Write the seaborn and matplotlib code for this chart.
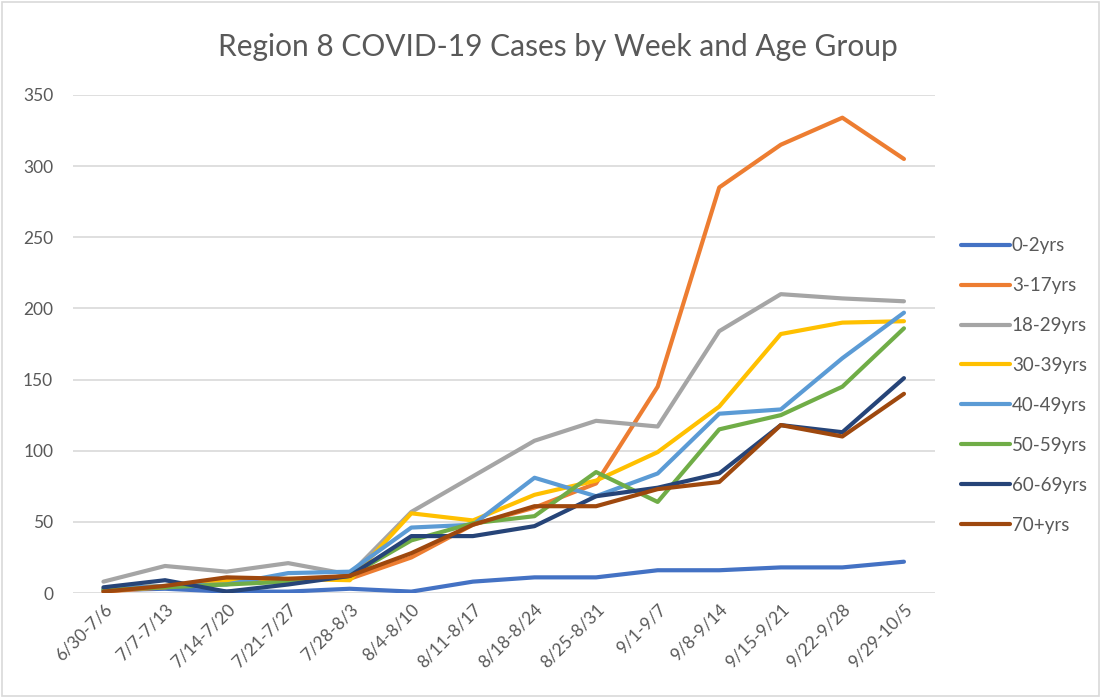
import matplotlib
matplotlib.use("Agg")
import matplotlib.pyplot as plt
import seaborn as sns
import pandas as pd
from matplotlib.patches import Rectangle

weeks = ["6/30-7/6", "7/7-7/13", "7/14-7/20", "7/21-7/27", "7/28-8/3", "8/4-8/10",
         "8/11-8/17", "8/18-8/24", "8/25-8/31", "9/1-9/7", "9/8-9/14", "9/15-9/21",
         "9/22-9/28", "9/29-10/5"]

age_groups = ["0-2yrs", "3-17yrs", "18-29yrs", "30-39yrs", "40-49yrs",
              "50-59yrs", "60-69yrs", "70+yrs"]

cases_0_2 = [2, 3, 1, 1, 3, 1, 8, 11, 11, 16, 16, 18, 18, 22]
cases_3_17 = [1, 4, 10, 9, 10, 25, 48, 60, 77, 145, 285, 315, 334, 305]
cases_18_29 = [8, 19, 15, 21, 13, 57, 82, 107, 121, 117, 184, 210, 207, 205]
cases_30_39 = [3, 5, 8, 10, 9, 56, 51, 69, 79, 99, 131, 182, 190, 191]
cases_40_49 = [3, 5, 6, 14, 15, 46, 48, 81, 68, 84, 126, 129, 165, 197]
cases_50_59 = [2, 4, 6, 8, 12, 37, 49, 54, 85, 64, 115, 125, 145, 186]
cases_60_69 = [4, 9, 1, 6, 12, 40, 40, 47, 68, 74, 84, 118, 113, 151]
cases_70_plus = [1, 5, 11, 10, 12, 28, 48, 61, 61, 73, 78, 118, 110, 140]

colors = ["#4472C4", "#ED7D31", "#A5A5A5", "#FFC000", "#5B9BD5",
          "#70AD47", "#264478", "#9E480E"]

series = [cases_0_2, cases_3_17, cases_18_29, cases_30_39, cases_40_49,
          cases_50_59, cases_60_69, cases_70_plus]

rows = []
for grp, vals in zip(age_groups, series):
    for wk, v in zip(weeks, vals):
        rows.append({"Week": wk, "Cases": v, "Age Group": grp})
df = pd.DataFrame(rows)

sns.set_theme(style="white")
plt.rcParams["font.family"] = ["Lato", "DejaVu Sans"]

fig = plt.figure(figsize=(11.01, 6.98), dpi=100)
ax = fig.add_axes([0.066, 0.1504, 0.783, 0.7136])

sns.lineplot(data=df, x="Week", y="Cases", hue="Age Group", hue_order=age_groups,
             palette=colors, linewidth=3.0, sort=False, ax=ax,
             solid_capstyle="round", solid_joinstyle="round")

ax.set_xlim(-0.5, len(weeks) - 0.5)
ax.set_ylim(0, 350)
ax.set_yticks(range(0, 351, 50))
ax.yaxis.grid(True, color="#D9D9D9", linewidth=1.2)
ax.set_axisbelow(True)
for s in ax.spines.values():
    s.set_visible(False)
ax.set_xlabel("")
ax.set_ylabel("")
ax.set_xticks(range(len(weeks)))
ax.set_xticklabels(weeks, rotation=45, ha="right", rotation_mode="anchor")
ax.tick_params(axis="both", length=0, colors="#595959", labelsize=12.5)
ax.tick_params(axis="y", pad=14)
ax.tick_params(axis="x", pad=6)

fig.text(0.507, 0.932, "Region 8 COVID-19 Cases by Week and Age Group",
         ha="center", va="center", fontsize=21.5, color="#595959")

handles, labels = ax.get_legend_handles_labels()
leg = ax.legend(handles, labels, loc="upper left", bbox_to_anchor=(1.022, 0.729),
                frameon=False, fontsize=13.5, handlelength=2.6, handletextpad=0.1,
                labelspacing=1.22, borderaxespad=0)
for t in leg.get_texts():
    t.set_color("#595959")
for h in leg.get_lines():
    h.set_linewidth(3.0)

fig.patches.append(Rectangle((0.002, 0.003), 0.996, 0.994, transform=fig.transFigure,
                             fill=False, edgecolor="#D9D9D9", linewidth=1.2))

fig.savefig("out.png", dpi=100)
